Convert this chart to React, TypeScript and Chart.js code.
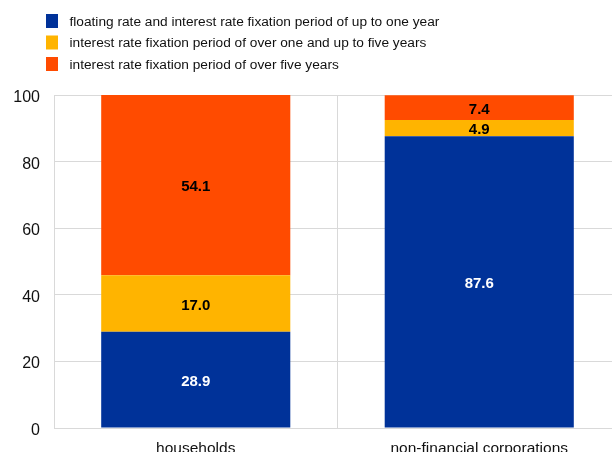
import React, { useEffect, useRef } from "react";
import { Chart, registerables } from "chart.js";

Chart.register(...registerables);

const categories = ["households", "non-financial corporations"];
const seriesNames = [
  "floating rate and interest rate fixation period of up to one year",
  "interest rate fixation period of over one and up to five years",
  "interest rate fixation period of over five years",
];
const upToOneYear = [28.9, 87.6];
const oneToFiveYears = [17.0, 4.9];
const overFiveYears = [54.1, 7.4];
const yTicks = [0, 20, 40, 60, 80, 100];

const colors = ["#003299", "#FFB400", "#FF4B00"];
const labelColors = ["#ffffff", "#000000", "#000000"];
const FONT = "'Liberation Sans', Arial, sans-serif";

const legendPlugin = {
  id: "customLegend",
  afterDraw(chart: any) {
    const ctx = chart.ctx;
    ctx.save();
    ctx.font = `13.7px ${FONT}`;
    ctx.textBaseline = "middle";
    ctx.textAlign = "left";
    chart.data.datasets.forEach((ds: any, i: number) => {
      const cy = 21 + i * 21.5;
      ctx.fillStyle = ds.backgroundColor;
      ctx.fillRect(46, cy - 7, 12, 14);
      ctx.fillStyle = "#111111";
      ctx.fillText(ds.label, 69.5, cy + 1);
    });
    ctx.restore();
  },
};

const valueLabelPlugin = {
  id: "valueLabels",
  afterDatasetsDraw(chart: any) {
    const ctx = chart.ctx;
    ctx.save();
    ctx.font = `bold 15px ${FONT}`;
    ctx.textAlign = "center";
    ctx.textBaseline = "middle";
    chart.data.datasets.forEach((ds: any, i: number) => {
      const meta = chart.getDatasetMeta(i);
      meta.data.forEach((bar: any, j: number) => {
        const v = ds.data[j];
        const cy = (bar.y + bar.base) / 2;
        ctx.fillStyle = labelColors[i];
        ctx.fillText(v.toFixed(1), bar.x, cy + 2);
      });
    });
    ctx.restore();
  },
};

export default function App() {
  const ref = useRef<HTMLCanvasElement | null>(null);
  useEffect(() => {
    if (!ref.current) return;
    const chart = new Chart(ref.current, {
      type: "bar",
      data: {
        labels: categories,
        datasets: [
          { label: seriesNames[0], data: upToOneYear, backgroundColor: colors[0] },
          { label: seriesNames[1], data: oneToFiveYears, backgroundColor: colors[1] },
          { label: seriesNames[2], data: overFiveYears, backgroundColor: colors[2] },
        ],
      },
      options: {
        animation: false,
        responsive: false,
        maintainAspectRatio: false,
        devicePixelRatio: 1,
        layout: { padding: { left: 0, right: 19, top: 95, bottom: 0 } },
        datasets: { bar: { barPercentage: 0.667, categoryPercentage: 1 } },
        plugins: { legend: { display: false }, tooltip: { enabled: false } },
        scales: {
          x: {
            stacked: true,
            grid: { color: "#d9d9d9", lineWidth: 1, offset: true, drawTicks: false },
            border: { color: "#d9d9d9" },
            ticks: { color: "#111111", font: { family: FONT, size: 15.5 }, padding: 11 },
            afterFit(scale: any) { scale.height = 42; },
          },
          y: {
            stacked: true,
            min: 0,
            max: 100,
            afterBuildTicks(scale: any) { scale.ticks = yTicks.map((v) => ({ value: v })); },
            grid: { color: "#d9d9d9", lineWidth: 1, drawTicks: false },
            border: { color: "#d9d9d9" },
            ticks: { color: "#111111", font: { family: FONT, size: 16 }, padding: 14, labelOffset: 2.5 },
            afterFit(scale: any) { scale.width = 54; },
          },
        },
      },
      plugins: [legendPlugin, valueLabelPlugin],
    });
    return () => chart.destroy();
  }, []);
  return (
    <div style={{ position: "fixed", left: 0, top: 0, width: 612, height: 452, overflow: "hidden", background: "#fff" }}>
      <canvas ref={ref} width={640} height={470} style={{ display: "block", width: 640, height: 470 }} />
    </div>
  );
}
